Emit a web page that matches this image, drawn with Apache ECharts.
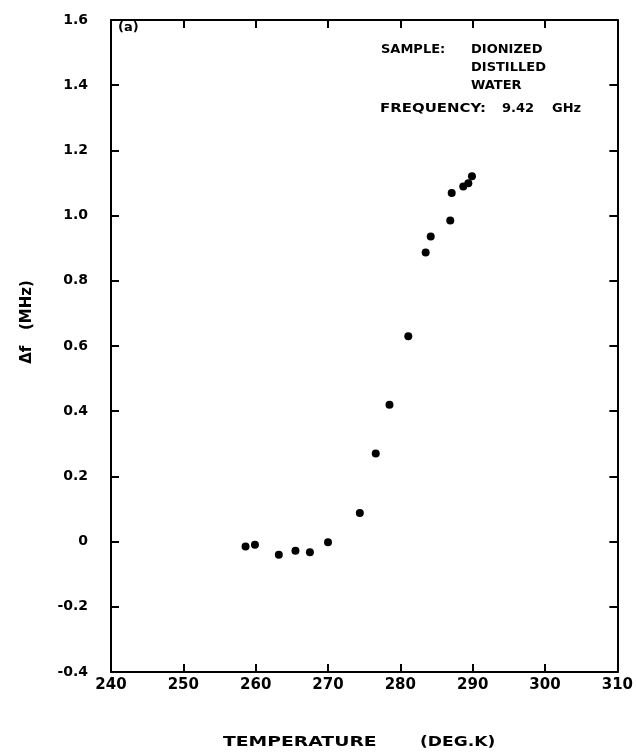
<!DOCTYPE html>
<html><head><meta charset="utf-8">
<script src="https://cdn.jsdelivr.net/npm/echarts@6/dist/echarts.min.js"></script>
<style>html,body{margin:0;padding:0;background:#fff}#c{width:636px;height:752px}</style>
</head><body><div id="c"></div>
<script>
const temperature = [258.6, 259.9, 263.2, 265.5, 267.5, 270.0, 274.4, 276.6, 278.5, 281.1, 283.5, 284.2, 286.9, 287.1, 288.7, 289.4, 289.9];
const deltaF = [-0.015, -0.01, -0.04, -0.028, -0.033, -0.002, 0.088, 0.27, 0.42, 0.63, 0.887, 0.936, 0.985, 1.069, 1.089, 1.099, 1.121];
const xTicks = [240, 250, 260, 270, 280, 290, 300, 310];
const yTicks = [-0.4, -0.2, 0, 0.2, 0.4, 0.6, 0.8, 1.0, 1.2, 1.4, 1.6];

const FONT = '"DejaVu Sans", "Liberation Sans", Arial, sans-serif';
const chart = echarts.init(document.getElementById('c'), null, {renderer: 'canvas'});
const axisLine = {show: true, onZero: false, lineStyle: {color: '#000', width: 2}};
const tick = {show: true, inside: true, length: 8, lineStyle: {color: '#000', width: 2}};
const fmtY = v => (Math.abs(v) < 1e-9 ? '0' : v.toFixed(1));
chart.setOption({
  animation: false,
  backgroundColor: '#fff',
  grid: {left: 111, right: 18, top: 20, bottom: 80, containLabel: false},
  xAxis: [{
    type: 'value', min: 240, max: 310, interval: 10, position: 'bottom',
    axisLine: axisLine, axisTick: tick,
    axisLabel: {color: '#000', fontFamily: FONT, fontWeight: 'bold', fontSize: 15, margin: 6,
      formatter: v => xTicks.includes(v) ? String(v) : ''},
    splitLine: {show: false}
  }, {
    type: 'value', min: 240, max: 310, interval: 10, position: 'top',
    axisLine: axisLine, axisTick: tick,
    axisLabel: {show: false}, splitLine: {show: false}
  }],
  yAxis: [{
    type: 'value', min: -0.4, max: 1.6, interval: 0.2, position: 'left',
    axisLine: axisLine, axisTick: tick,
    axisLabel: {color: '#000', fontFamily: FONT, fontWeight: 'bold', fontSize: 14, margin: 23,
      formatter: v => yTicks.some(t => Math.abs(t - v) < 1e-9) ? fmtY(v) : ''},
    splitLine: {show: false}
  }, {
    type: 'value', min: -0.4, max: 1.6, interval: 0.2, position: 'right',
    axisLine: axisLine, axisTick: tick,
    axisLabel: {show: false}, splitLine: {show: false}
  }],
  series: [{
    type: 'scatter', xAxisIndex: 0, yAxisIndex: 0,
    data: temperature.map((t, i) => [t, deltaF[i]]),
    symbol: 'circle', symbolSize: 8,
    itemStyle: {color: '#000', opacity: 1}
  }],
  graphic: [
    {type: 'text', x: 118, y: 28, style: {text: '(a)', fill: '#000', font: 'bold 13px ' + FONT, verticalAlign: 'middle'}},
    {type: 'text', x: 381, y: 50, style: {text: 'SAMPLE:', fill: '#000', font: 'bold 13px ' + FONT, verticalAlign: 'middle'}},
    {type: 'text', x: 471, y: 50, style: {text: 'DIONIZED', fill: '#000', font: 'bold 13px ' + FONT, verticalAlign: 'middle'}},
    {type: 'text', x: 471, y: 68, style: {text: 'DISTILLED', fill: '#000', font: 'bold 13px ' + FONT, verticalAlign: 'middle'}},
    {type: 'text', x: 471, y: 86, style: {text: 'WATER', fill: '#000', font: 'bold 13px ' + FONT, verticalAlign: 'middle'}},
    {type: 'text', x: 380, y: 109, scaleX: 1.15, style: {text: 'FREQUENCY:', fill: '#000', font: 'bold 13px ' + FONT, verticalAlign: 'middle'}},
    {type: 'text', x: 502, y: 109, style: {text: '9.42', fill: '#000', font: 'bold 13px ' + FONT, verticalAlign: 'middle'}},
    {type: 'text', x: 552, y: 109, style: {text: 'GHz', fill: '#000', font: 'bold 13px ' + FONT, verticalAlign: 'middle'}},
    {type: 'text', x: 223, y: 742, scaleX: 1.34, style: {text: 'TEMPERATURE', fill: '#000', font: 'bold 14px ' + FONT, verticalAlign: 'middle'}},
    {type: 'text', x: 420, y: 742, scaleX: 1.22, style: {text: '(DEG.K)', fill: '#000', font: 'bold 14px ' + FONT, verticalAlign: 'middle'}},
    {type: 'text', x: 27, y: 322, rotation: Math.PI / 2, style: {text: 'Δf   (MHz)', fill: '#000', font: 'bold 15px ' + FONT, align: 'center', verticalAlign: 'middle'}}
  ]
});
</script></body></html>
